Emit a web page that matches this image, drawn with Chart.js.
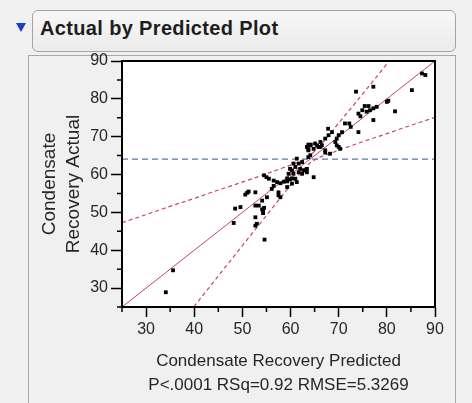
<!DOCTYPE html>
<html>
<head>
<meta charset="utf-8">
<script src="https://cdn.jsdelivr.net/npm/chart.js@4.4.1/dist/chart.umd.min.js"></script>
<style>
  body { margin: 0; width: 472px; height: 403px; background: #f0f0f0; overflow: hidden; position: relative;
         font-family: "Liberation Sans", Arial, sans-serif; }
  #arrow { position: absolute; left: 16px; top: 23px; width: 0; height: 0;
           border-left: 5px solid transparent; border-right: 5px solid transparent; border-top: 9px solid #1b3fc4; }
  #head { position: absolute; left: 32px; top: 10px; width: 422px; height: 40px; border: 1px solid #a3a3a3;
          border-radius: 6px; background: linear-gradient(#f7f7f7, #ebebeb); }
  #head span { position: absolute; left: 7px; top: 7px; font-weight: bold; font-size: 20px; line-height: 20px;
               letter-spacing: 0.35px; color: #1e1e1e; }
  #box { position: absolute; left: 28px; top: 55px; width: 426px; height: 360px; border: 1px solid #a8a8a8; }
  #wrap { position: absolute; left: 0; top: 0; width: 472px; height: 403px; }
</style>
</head>
<body>
<div id="arrow"></div>
<div id="head"><span>Actual by Predicted Plot</span></div>
<div id="box"></div>
<div id="wrap"><canvas id="plot" width="472" height="403"></canvas></div>
<script>
// points
const predicted = [
  34.1, 35.6,
  48.2, 48.5, 49.6, 50.6, 51.0, 51.3, 52.7, 52.7, 53.4, 54.1, 54.3, 54.5, 54.3, 52.7, 53.0, 52.7, 54.6, 54.1, 55.1, 57.5, 57.9, 56.5, 56.1, 57.5,
  54.5, 55.0, 55.5, 56.5, 57.2, 57.9, 58.6, 59.3, 59.9, 61.0, 61.3, 60.3, 59.3,
  59.3, 60.3, 59.6, 60.6, 62.4, 63.4, 64.8, 59.9, 61.0, 62.0, 63.0, 60.3, 61.7, 62.7, 63.4, 60.6, 61.7, 62.4, 61.3, 63.7, 64.1, 67.2, 63.7, 63.7, 64.2, 65.5, 66.2, 68.2,
  63.7, 64.8, 67.2, 63.4, 64.1, 65.1, 66.2, 65.8, 66.5, 67.2, 67.9, 68.6, 67.8, 69.3, 69.6, 70.0, 70.7, 69.6, 70.0, 70.3,
  71.3, 72.2, 72.5, 74.1, 74.1, 74.5, 74.9, 75.4, 75.8, 76.2, 76.5, 77.2, 77.9, 77.2, 80.0, 80.3, 73.6, 77.2, 81.7, 85.2, 87.3, 88.0
];
const actual = [
  28.9, 34.7,
  47.2, 51.0, 51.4, 54.7, 55.2, 55.5, 55.3, 51.8, 51.8, 50.8, 50.3, 51.2, 49.8, 48.7, 47.0, 46.5, 42.8, 53.1, 54.0, 54.5, 54.0, 57.0, 56.2, 55.3,
  59.8, 59.3, 58.9, 58.4, 58.0, 57.7, 58.1, 58.2, 58.7, 58.9, 58.0, 57.6, 56.7,
  59.0, 59.0, 60.2, 60.2, 60.2, 60.6, 59.3, 61.5, 62.0, 61.5, 61.1, 61.1, 60.6, 61.1, 61.5, 62.9, 62.9, 63.3, 64.2, 64.6, 65.1, 65.8, 66.7, 67.9, 67.9, 67.7, 67.3, 65.5,
  66.4, 66.8, 66.4, 67.3, 67.7, 68.2, 68.6, 67.3, 67.7, 69.5, 70.4, 71.2, 72.1, 68.6, 69.5, 70.4, 71.2, 67.7, 67.3, 66.8,
  73.5, 73.5, 72.6, 71.2, 76.1, 75.4, 77.0, 78.1, 76.6, 78.1, 77.0, 77.5, 77.9, 74.4, 79.2, 79.5, 81.9, 83.2, 76.7, 82.3, 86.7, 86.3
];

// dashed confidence curves, read at a few x positions
const upperX = [25, 30, 35, 40, 45, 50, 55, 58, 60, 62, 64, 66, 68, 70, 73, 76, 80, 81];
const upperY = [47.3, 49.4, 51.6, 53.7, 55.9, 58.0, 60.2, 61.6, 62.5, 63.5, 65.0, 67.5, 70.5, 73.6, 78.2, 82.9, 89.2, 90.8];
const lowerX = [39, 40, 45, 50, 55, 58, 60, 62, 64, 66, 68, 70, 73, 76, 80, 85, 90];
const lowerY = [23.6, 25.2, 33.2, 41.2, 49.2, 54.0, 57.2, 60.3, 63.0, 64.5, 65.5, 66.4, 67.8, 69.1, 70.8, 73.0, 75.1];

const fitX = [25, 90];      // actual = predicted line
const meanActual = 64.06;
const axisMin = 25, axisMax = 90;

const red = '#c4466a';
const textColor = '#262626';
const fontFamily = "'Liberation Sans', Arial, sans-serif";

const plotFrame = {
  id: 'plotFrame',
  beforeDraw(chart) {
    const { ctx, chartArea: a } = chart;
    ctx.save();
    ctx.fillStyle = '#fff';
    ctx.fillRect(a.left, a.top, a.right - a.left, a.bottom - a.top);
    ctx.restore();
  },
  afterDraw(chart) {
    const { ctx, chartArea: a, scales: { x, y } } = chart;
    ctx.save();
    ctx.strokeStyle = '#000';
    ctx.lineWidth = 1.5;
    ctx.beginPath();
    x.ticks.forEach(t => {
      if (t.value % 10) {
        const px = x.getPixelForValue(t.value);
        ctx.moveTo(px, a.bottom); ctx.lineTo(px, a.bottom + 5);
      }
    });
    y.ticks.forEach(t => {
      if (t.value % 10) {
        const py = y.getPixelForValue(t.value);
        ctx.moveTo(a.left, py); ctx.lineTo(a.left - 5, py);
      }
    });
    ctx.stroke();
    ctx.lineWidth = 2;
    ctx.strokeRect(a.left, a.top, a.right - a.left, a.bottom - a.top);
    ctx.restore();
  }
};

const majorOnly = c => (c.tick && c.tick.value % 10 === 0) ? '#000' : 'rgba(0,0,0,0)';

new Chart(document.getElementById('plot'), {
  type: 'scatter',
  data: {
    datasets: [
      {
        data: predicted.map((p, i) => ({ x: p, y: actual[i] })),
        pointStyle: 'rect', pointRadius: 2.7, backgroundColor: '#000', borderWidth: 0
      },
      {
        data: fitX.map(v => ({ x: v, y: v })),
        showLine: true, borderColor: red, borderWidth: 1, pointRadius: 0
      },
      {
        data: upperX.map((v, i) => ({ x: v, y: upperY[i] })),
        showLine: true, borderColor: red, borderWidth: 1.2, borderDash: [4, 3], pointRadius: 0,
        cubicInterpolationMode: 'monotone'
      },
      {
        data: lowerX.map((v, i) => ({ x: v, y: lowerY[i] })),
        showLine: true, borderColor: red, borderWidth: 1.2, borderDash: [4, 3], pointRadius: 0,
        cubicInterpolationMode: 'monotone'
      },
      {
        data: [{ x: axisMin, y: meanActual }, { x: axisMax, y: meanActual }],
        showLine: true, borderColor: '#5a78a8', borderWidth: 1.2, borderDash: [6, 4], pointRadius: 0
      }
    ]
  },
  options: {
    responsive: false,
    animation: false,
    events: [],
    layout: { padding: { left: 30, top: 61, right: 37, bottom: 0 } },
    plugins: { legend: { display: false }, tooltip: { enabled: false } },
    scales: {
      x: {
        min: axisMin, max: axisMax,
        afterFit: s => { s.height = 96; s.paddingLeft = 0; s.paddingRight = 0; },
        border: { color: '#000', width: 2 },
        grid: { drawOnChartArea: false, tickLength: 10, tickWidth: 1.5, tickColor: majorOnly },
        ticks: {
          stepSize: 5, autoSkip: false, maxRotation: 0, padding: 3, color: textColor,
          font: { size: 16, family: fontFamily },
          callback: v => v % 10 === 0 ? v : ''
        },
        title: {
          display: true,
          text: ['Condensate Recovery Predicted', 'P<.0001 RSq=0.92 RMSE=5.3269'],
          color: textColor, font: { size: 17, family: fontFamily, lineHeight: 1.44 },
          padding: { top: 0, bottom: 5 }
        }
      },
      y: {
        min: axisMin, max: axisMax,
        afterFit: s => { s.width = 92; s.paddingTop = 0; s.paddingBottom = 0; },
        border: { color: '#000', width: 2 },
        grid: { drawOnChartArea: false, tickLength: 11, tickWidth: 1.5, tickColor: majorOnly },
        ticks: {
          stepSize: 5, autoSkip: false, padding: 3, color: textColor,
          font: { size: 16, family: fontFamily },
          callback: v => v % 10 === 0 ? v : ''
        },
        title: {
          display: true,
          text: ['Condensate', 'Recovery Actual'],
          color: textColor, font: { size: 19, family: fontFamily, lineHeight: 1.3 },
          padding: { top: 7, bottom: 0 }
        }
      }
    }
  },
  plugins: [plotFrame]
});
</script>
</body>
</html>
